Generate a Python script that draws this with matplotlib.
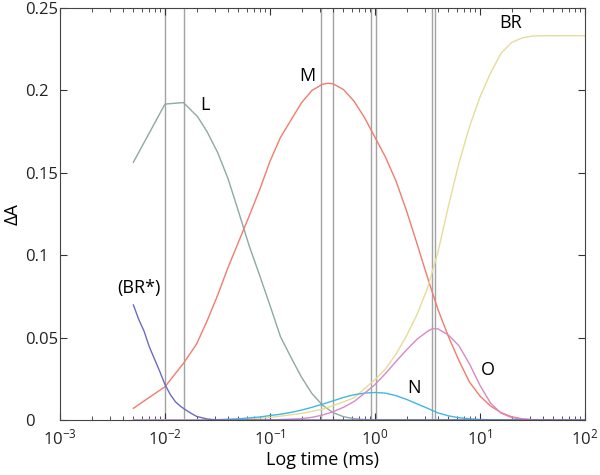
import numpy as np
import matplotlib
matplotlib.use("Agg")
import matplotlib.pyplot as plt

plt.rcParams['font.family'] = ['Open Sans', 'DejaVu Sans']

lt_L = [-2.301, -2.0, -1.824, -1.689, -1.6, -1.5, -1.4, -1.3, -1.2, -1.1, -1.0, -0.9,
        -0.8, -0.7, -0.6, -0.5, -0.4, -0.3, -0.2, -0.1, 0.0, 2.0]
L = [0.1564, 0.1917, 0.1926, 0.184, 0.175, 0.1625, 0.1465, 0.1265, 0.106, 0.088, 0.0695,
     0.0505, 0.038, 0.026, 0.016, 0.009, 0.0045, 0.002, 0.0008, 0.0002, 0.0, 0.0]

lt_M = [-2.301, -2.0, -1.824, -1.7, -1.6, -1.5, -1.4, -1.3, -1.2, -1.1, -1.0, -0.9, -0.8,
        -0.7, -0.6, -0.5, -0.45, -0.4, -0.3, -0.2, -0.1, 0.0, 0.1, 0.2, 0.3, 0.4, 0.5,
        0.6, 0.7, 0.8, 0.9, 1.0, 1.1, 1.2, 1.3, 1.4, 1.5, 1.7, 2.0]
M = [0.0071, 0.0202, 0.0344, 0.046, 0.060, 0.0755, 0.0925, 0.108, 0.1235, 0.1395, 0.157,
     0.1715, 0.182, 0.1925, 0.2, 0.2037, 0.2043, 0.204, 0.2005, 0.1935, 0.1835, 0.1715,
     0.1595, 0.145, 0.127, 0.107, 0.0865, 0.067, 0.0505, 0.036, 0.023, 0.0145, 0.0085,
     0.0045, 0.002, 0.0007, 0.0002, 0.0, 0.0]

lt_BR = [-2.301, -1.5, -1.0, -0.7, -0.5, -0.3, -0.2, -0.1, 0.0, 0.1, 0.2, 0.3, 0.4, 0.5,
         0.6, 0.7, 0.8, 0.9, 1.0, 1.1, 1.2, 1.3, 1.4, 1.5, 1.7, 2.0]
BR = [0.0, 0.0, 0.0015, 0.004, 0.0065, 0.011, 0.0135, 0.019, 0.0245, 0.031, 0.040, 0.051,
      0.064, 0.080, 0.102, 0.130, 0.156, 0.178, 0.196, 0.2105, 0.2225, 0.229, 0.2318,
      0.2330, 0.2332, 0.2332]

lt_N = [-2.301, -1.7, -1.5, -1.3, -1.1, -1.0, -0.9, -0.8, -0.7, -0.6, -0.5, -0.4, -0.3,
        -0.2, -0.1, 0.0, 0.1, 0.2, 0.3, 0.4, 0.5, 0.6, 0.7, 0.8, 0.9, 1.0, 1.2, 2.0]
N = [0.0, 0.0, 0.0002, 0.0007, 0.0018, 0.0027, 0.0035, 0.0046, 0.006, 0.0077, 0.0096,
     0.0116, 0.0137, 0.0153, 0.0163, 0.0167, 0.0163, 0.0148, 0.0125, 0.0098, 0.0071,
     0.0043, 0.0025, 0.0014, 0.0007, 0.0003, 0.0, 0.0]

lt_O = [-2.301, -1.0, -0.7, -0.6, -0.5, -0.4, -0.3, -0.2, -0.1, 0.0, 0.1, 0.2, 0.3, 0.4,
        0.5, 0.55, 0.6, 0.7, 0.8, 0.9, 1.0, 1.1, 1.2, 1.3, 1.4, 1.5, 1.7, 2.0]
O = [0.0, 0.0, 0.0008, 0.0016, 0.003, 0.005, 0.0077, 0.0112, 0.0162, 0.0215, 0.0282,
     0.0355, 0.0425, 0.049, 0.0538, 0.0555, 0.0553, 0.0515, 0.045, 0.034, 0.021, 0.0103,
     0.0042, 0.0015, 0.0005, 0.0001, 0.0, 0.0]

lt_BRs = [-2.301, -2.25, -2.2, -2.15, -2.1, -2.05, -2.0, -1.95, -1.9, -1.85, -1.8, -1.75,
          -1.7, -1.6, -1.5, 2.0]
BRs = [0.0698, 0.061, 0.054, 0.0445, 0.037, 0.0295, 0.0215, 0.0155, 0.011, 0.0082, 0.006,
       0.004, 0.0022, 0.0006, 0.0, 0.0]

vlines = [0.0101, 0.0151, 0.304, 0.40, 0.916, 1.02, 3.52, 3.73]

series = [
    (lt_L, L, '#8fa9a1'),
    (lt_M, M, '#f07c6c'),
    (lt_BR, BR, '#e6dc98'),
    (lt_N, N, '#40b9e0'),
    (lt_O, O, '#d58ac6'),
    (lt_BRs, BRs, '#6b6bbf'),
]

fig = plt.figure(figsize=(6, 4.75), dpi=100)
ax = fig.add_axes([0.1, 0.1158, 0.875, 0.8674])

for v in vlines:
    ax.axvline(v, color='#a3a3a3', lw=1.0, zorder=1)

for lt, vals, c in series:
    ax.plot(10.0 ** np.array(lt), vals, color=c, lw=1.0)

fs = 13
ax.text(0.024, 0.191, 'L', fontsize=fs, ha='center', va='center')
ax.text(0.225, 0.209, 'M', fontsize=fs, ha='center', va='center')
ax.text(19.7, 0.241, 'BR', fontsize=fs, ha='center', va='center')
ax.text(0.00565, 0.080, '(BR*)', fontsize=fs, ha='center', va='center')
ax.text(2.35, 0.0194, 'N', fontsize=fs, ha='center', va='center')
ax.text(11.9, 0.0303, 'O', fontsize=fs, ha='center', va='center')

ax.set_xscale('log')
ax.set_xlim(1e-3, 1e2)
ax.set_ylim(0, 0.25)
ax.set_yticks([0, 0.05, 0.1, 0.15, 0.2, 0.25])
ax.set_yticklabels(['0', '0.05', '0.1', '0.15', '0.2', '0.25'])
ax.tick_params(which='both', direction='in', top=True, right=True,
               labelsize=12, colors='#333333', labelcolor='#222222')
ax.tick_params(which='major', length=5)
ax.tick_params(which='minor', length=3)
# left-aligned y tick labels, as in the original
ax.tick_params(axis='y', pad=25)
for lab in ax.get_yticklabels():
    lab.set_horizontalalignment('left')
ax.tick_params(axis='x', pad=6)
for s in ax.spines.values():
    s.set_color('#444444')

ax.set_xlabel('Log time (ms)', fontsize=13, labelpad=2)
ax.set_ylabel('ΔA', fontsize=13)
ax.yaxis.set_label_coords(-0.074, 0.5)

fig.savefig('out.png', dpi=100)
